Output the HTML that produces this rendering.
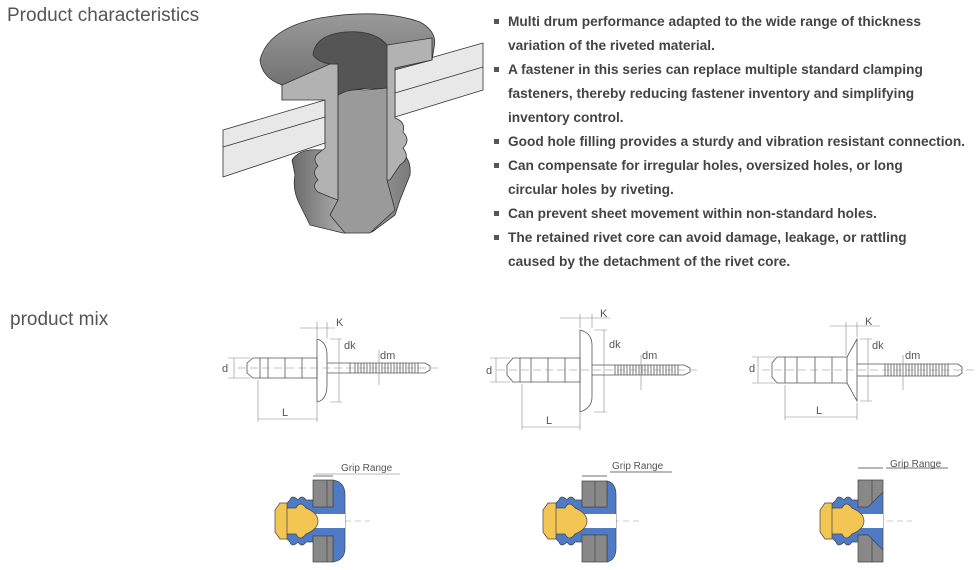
<!DOCTYPE html>
<html><head><meta charset="utf-8"><style>
body{margin:0;background:#fff;width:980px;height:570px;overflow:hidden;position:relative;font-family:"Liberation Sans",Arial,sans-serif}
.h{position:absolute;color:#555;font-size:19px}
ul{position:absolute;left:494px;top:10px;margin:0;padding:0;list-style:none;font-weight:bold;font-size:13.7px;color:#444;line-height:24px}
li{padding-left:14px;position:relative}
li:before{content:"";position:absolute;left:0;top:9px;width:5px;height:5px;background:#555}
svg{position:absolute;left:0;top:0}
</style></head><body>
<div class="h" style="left:7px;top:5px">Product characteristics</div>
<div class="h" style="left:10px;top:309px">product mix</div>
<ul>
<li>Multi drum performance adapted to the wide range of thickness<br>variation of the riveted material.</li>
<li>A fastener in this series can replace multiple standard clamping<br>fasteners, thereby reducing fastener inventory and simplifying<br>inventory control.</li>
<li>Good hole filling provides a sturdy and vibration resistant connection.</li>
<li>Can compensate for irregular holes, oversized holes, or long<br>circular holes by riveting.</li>
<li>Can prevent sheet movement within non-standard holes.</li>
<li>The retained rivet core can avoid damage, leakage, or rattling<br>caused by the detachment of the rivet core.</li>
</ul>
<svg width="980" height="570" viewBox="0 0 980 570">
<defs>
<linearGradient id="g1" x1="0" x2="1"><stop offset="0" stop-color="#6a6a6a"/><stop offset=".45" stop-color="#b0b0b0"/><stop offset="1" stop-color="#7a7a7a"/></linearGradient>
<linearGradient id="g2" x1="0" y1="0" x2="0" y2="1"><stop offset="0" stop-color="#9a9a9a"/><stop offset="1" stop-color="#6a6a6a"/></linearGradient>
</defs>
<!-- top 3D rivet -->
<g stroke="#333" stroke-width="0.8" stroke-linejoin="round">
<path d="M292,160 Q300,148 320,150 L395,150 Q412,155 410,175 L400,200 L395,215 L372,232 L343,233 L310,225 L300,205 Q292,190 295,175z" fill="url(#g1)"/>
<path d="M223,130 L325,100 L325,143 L223,177z" fill="#e8e8e8"/>
<path d="M223,147 L325,117" fill="none"/>
<path d="M395,68 L483,43 L483,90 L395,117z" fill="#e8e8e8"/>
<path d="M395,93 L483,67" fill="none"/>
<path d="M260,60 Q268,28 320,18 Q380,8 420,22 Q438,32 434,48 L432,60 L282,100 L282,85 Q262,78 260,60z" fill="url(#g2)"/>
<path d="M282,85 L330,64 L338,64 L338,200 L330,197 L318,192 Q311,186 318,180 Q311,172 318,166 Q311,158 320,152 L325,148 L325,100 L282,100z" fill="#b2b2b2"/>
<path d="M387,45 L432,38 L432,60 L395,68 L395,118 Q406,122 403,132 Q411,140 403,148 Q411,158 400,165 L390,180 L385,180 L385,64z" fill="#b2b2b2"/>
<path d="M313,55 Q315,35 345,32 Q375,30 387,45 L387,90 Q360,85 338,95 L338,64 L330,64 Q318,62 313,55z" fill="#555"/>
<path d="M338,95 Q350,88 365,90 L387,88 L387,180 L395,210 L370,233 L345,233 L330,215 L338,200z" fill="#9a9a9a"/>
</g>
<!-- rivet side views -->
<g fill="none" stroke="#555" stroke-width="0.8">
<path d="M247,363 L253,358 L317,358 L317,378 L253,378 L247,373z M260,358 V378 M268,358 V378 M285,358 V378 M302,358 V378"/>
<path d="M317,339 Q327,342 327,355 L327,385 Q327,400 317,402z"/>
<path d="M327,363 H425 L430,366 V370 L425,373 H327 M350,363 V373"/>
<path d="M355,363 V373 M358,363V373 M361,363V373 M364,363V373 M367,363V373 M370,363V373 M373,363V373 M376,363V373 M379,363V373 M382,363V373 M385,363V373 M388,363V373 M391,363V373 M394,363V373 M397,363V373 M400,363V373 M403,363V373 M406,363V373 M409,363V373 M412,363V373 M415,363V373 M418,363V373"/>
<path d="M507,365 L513,358 L580,358 L580,382 L513,382 L507,375z M520,358 V382 M531,358 V382 M548,358 V382 M565,358 V382"/>
<path d="M580,330 Q592,333 592,345 L592,397 Q592,408 580,412z"/>
<path d="M592,365 H684 L690,368 V372 L684,375 H592"/>
<path d="M615,365V375 M618,365V375 M621,365V375 M624,365V375 M627,365V375 M630,365V375 M633,365V375 M636,365V375 M639,365V375 M642,365V375 M645,365V375 M648,365V375 M651,365V375 M654,365V375 M657,365V375 M660,365V375 M663,365V375 M666,365V375 M669,365V375 M672,365V375 M675,365V375 M678,365V375"/>
<path d="M772,363 L777,357 L847,357 L847,383 L777,383 L772,377z M785,357 V383 M797,357 V383 M815,357 V383 M832,357 V383"/>
<path d="M847,357 L857,339 L857,401 L847,383"/>
<path d="M857,364 H958 L962,367 V373 L958,376 H857"/>
<path d="M885,364V376 M888,364V376 M891,364V376 M894,364V376 M897,364V376 M900,364V376 M903,364V376 M906,364V376 M909,364V376 M912,364V376 M915,364V376 M918,364V376 M921,364V376 M924,364V376 M927,364V376 M930,364V376 M933,364V376 M936,364V376 M939,364V376 M942,364V376 M945,364V376 M948,364V376"/>
</g>
<g stroke="#888" stroke-width="0.6" fill="none">
<path d="M238,368 H440 M497,370 H700 M762,370 H975" stroke-dasharray="8 4"/>
<path d="M228,358 H250 M228,378 H250 M234,358 V378 M258,380 V422 M317,403 V422 M258,419 H317 M300,328 H335 M317,322 V338 M327,322 V338 M330,339 H342 M330,402 H342 M339,339 V402 M379,350 V385"/>
<path d="M490,358 H510 M490,382 H510 M496,358 V382 M522,384 V430 M580,413 V430 M522,427 H580 M560,318 H610 M580,314 V328 M592,314 V328 M594,330 H607 M594,412 H607 M604,330 V412 M641,355 V390"/>
<path d="M752,357 H775 M752,383 H775 M758,357 V383 M785,385 V420 M857,403 V420 M785,417 H857 M830,326 H880 M846,322 V355 M857,322 V337 M860,339 H872 M860,401 H872 M868,339 V401 M903,355 V390"/>
</g>
<g font-size="11" fill="#555" font-family="Liberation Sans,sans-serif">
<text x="222" y="372">d</text><text x="282" y="416">L</text><text x="336" y="326">K</text><text x="344" y="349">dk</text><text x="380" y="359">dm</text>
<text x="486" y="374">d</text><text x="546" y="424">L</text><text x="600" y="317">K</text><text x="609" y="348">dk</text><text x="642" y="359">dm</text>
<text x="749" y="372">d</text><text x="816" y="414">L</text><text x="865" y="325">K</text><text x="872" y="349">dk</text><text x="905" y="359">dm</text>
</g>
<g stroke="#555" stroke-width="0.6">
<path d="M315,474 H400" stroke="#777" fill="none"/>
<path d="M285,521 H370 M553,521 H640 M827,521 H912" stroke="#999" stroke-dasharray="6 4" fill="none"/>
</g>
<g font-size="10" fill="#555"><text x="341" y="471">Grip Range</text><text x="612" y="469">Grip Range</text><text x="890" y="467">Grip Range</text></g>
<g stroke="#444" stroke-width="0.7">
<path d="M313,476 H333" fill="none"/>
<path d="M283,507 L290,500 Q292,494 298,500 Q302,494 306,500 L313,500 L313,507 L333,507 L333,480 Q345,482 345,495 L345,548 Q345,560 333,562 L333,536 L313,536 L313,542 L306,542 Q302,548 298,542 Q292,548 290,542 L283,535z" fill="#4f7ac6"/>
<rect x="313" y="480" width="20" height="27" fill="#888"/><rect x="313" y="536" width="20" height="26" fill="#888"/>
<path d="M327,480 V507 M327,536 V562" fill="none"/>
<rect x="298" y="514" width="47" height="14" fill="#fff" stroke="none"/>
<path d="M283,508 L296,508 Q300,500 306,508 Q318,513 318,521 Q318,529 306,534 Q300,542 296,534 L283,534z" fill="#f3c553"/>
<path d="M275,510 L280,503 L287,503 L287,539 L280,539 L275,532z" fill="#f3c553"/>
<path d="M582,476 H607 M610,472 H672" fill="none"/>
<path d="M552,507 L559,500 Q561,494 567,500 Q571,494 575,500 L582,500 L582,507 L607,507 L607,481 Q616,483 616,495 L616,548 Q616,560 607,562 L607,535 L582,535 L582,542 L575,542 Q571,548 567,542 Q561,548 559,542 L552,535z" fill="#4f7ac6"/>
<rect x="582" y="481" width="25" height="26" fill="#888"/><rect x="582" y="535" width="25" height="27" fill="#888"/>
<path d="M595,481 V507 M595,535 V562" fill="none"/>
<rect x="566" y="514" width="50" height="14" fill="#fff" stroke="none"/>
<path d="M552,508 L565,508 Q569,500 575,508 Q587,513 587,521 Q587,529 575,534 Q569,542 565,534 L552,534z" fill="#f3c553"/>
<path d="M543,510 L548,503 L556,503 L556,539 L548,539 L543,532z" fill="#f3c553"/>
<path d="M858,468 H883 M886,468 H948" fill="none"/>
<path d="M829,507 L836,500 Q838,494 844,500 Q848,494 852,500 L858,500 L858,507 L868,507 L883,492 L883,550 L868,535 L858,535 L858,542 L852,542 Q848,548 844,542 Q838,548 836,542 L829,535z" fill="#4f7ac6"/>
<path d="M858,480 H883 V492 L868,507 H858z M858,535 H868 L883,550 V562 H858z" fill="#888"/>
<path d="M872,480 V503 M872,539 V562" fill="none"/>
<rect x="842" y="514" width="41" height="14" fill="#fff" stroke="none"/>
<path d="M829,508 L842,508 Q846,500 852,508 Q864,513 864,521 Q864,529 852,534 Q846,542 842,534 L829,534z" fill="#f3c553"/>
<path d="M820,510 L825,503 L832,503 L832,539 L825,539 L820,532z" fill="#f3c553"/>
</g>
</svg>
</body></html>
